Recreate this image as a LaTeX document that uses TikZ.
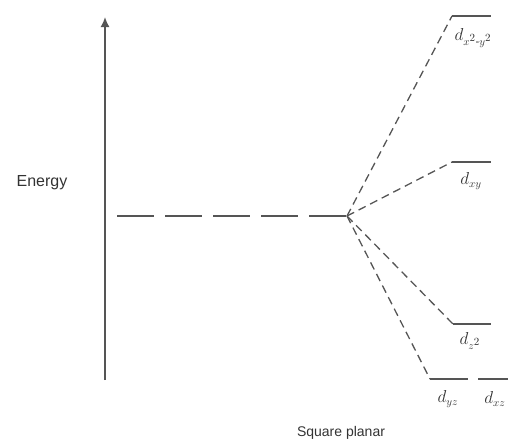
\documentclass[tikz,border=0pt]{standalone}
\usepackage{amsmath}
\usepackage{fontspec}
\setmainfont{Liberation Sans}
\usetikzlibrary{positioning, arrows.meta, calc}
\definecolor{lineMain}{HTML}{555555}
\definecolor{textMain}{HTML}{333333}
\newcommand{\sqr}{^{\scriptstyle 2}}
\tikzset{
  axis/.style={
    -{Latex[length=10pt, width=9pt]}, line width=1.6pt, color=lineMain,
  },
  freeion/.style={
    line width=1.8pt, color=lineMain, dash pattern=on 37pt off 11pt,
  },
  level/.style={
    line width=1.5pt, color=lineMain,
  },
  split/.style={
    line width=1.3pt, color=lineMain, dash pattern=on 8pt off 5pt,
  },
  orblabel/.style={
    font=\fontsize{16}{18}\selectfont, text=textMain, inner sep=0pt,
  },
  axislabel/.style={
    font=\fontsize{14}{16}\selectfont, text=textMain, inner sep=0pt,
  },
}

\begin{document}
\begin{tikzpicture}[x=1pt, y=-1pt]
  \useasboundingbox (0,0) rectangle (508,445);

  % === Energy axis ===
  \coordinate (axbot) at (105,380);
  \coordinate (axtop) at (105,17);
  \draw[axis] (axbot) -- (axtop);
  \node[axislabel, font=\fontsize{16}{18}\selectfont] (energy) at (42,183) {Energy};

  % === Free ion d level ===
  \coordinate (freeL) at (117,216);
  \coordinate (branch) at (347,216);
  \draw[freeion] (freeL) -- (branch);

  % === Split d levels (square planar) ===
  \coordinate (x2y2L) at (452,16);  \coordinate (x2y2R) at (491,16);
  \coordinate (xyL)   at (452,162); \coordinate (xyR)   at (491,162);
  \coordinate (z2L)   at (453,324); \coordinate (z2R)   at (491,324);
  \coordinate (yzL)   at (430,379); \coordinate (yzR)   at (468,379);
  \coordinate (xzL)   at (478,379); \coordinate (xzR)   at (508,379);

  \draw[level] (x2y2L) -- (x2y2R);
  \draw[level] (xyL) -- (xyR);
  \draw[level] (z2L) -- (z2R);
  \draw[level] (yzL) -- (yzR);
  \draw[level] (xzL) -- (xzR);

  % correlation lines
  \draw[split] (branch) -- (x2y2L);
  \draw[split] (branch) -- (xyL);
  \draw[split] (branch) -- (z2L);
  \draw[split] (branch) -- (yzL);

  % === Orbital labels ===
  \node[orblabel] (x2y2) at (473,38) {$d_{x\sqr\text{-}y\sqr}$};
  \node[orblabel] (xy)   at (471,181) {$d_{xy}$};
  \node[orblabel] (z2)   at (470,341) {$d_{z\sqr}$};
  \node[orblabel] (yz)   at (448,399) {$d_{yz}$};
  \node[orblabel] (xz)   at (495,399) {$d_{xz}$};

  % === Geometry ===
  \node[axislabel] (geom) at (341,433) {Square planar};

\end{tikzpicture}
\end{document}
